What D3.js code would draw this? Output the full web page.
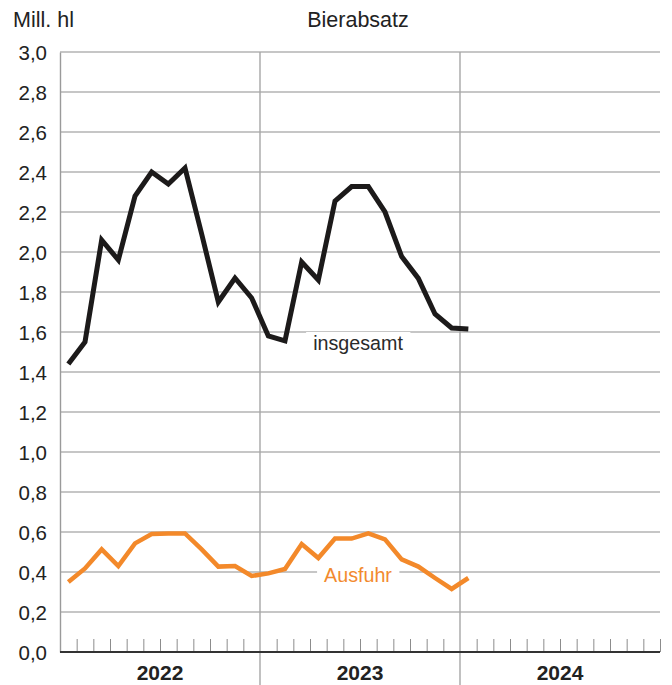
<!DOCTYPE html>
<html>
<head>
<meta charset="utf-8">
<script src="https://cdn.jsdelivr.net/npm/d3@7/dist/d3.min.js"></script>
<style>
  html, body { margin: 0; padding: 0; background: #fff; }
  svg { display: block; font-family: "Liberation Sans", Arial, sans-serif; }
</style>
</head>
<body>
<svg id="chart" width="672" height="685"></svg>
<script>
// Monthly beer sales, million hectolitres
const months = [
  "2022-01","2022-02","2022-03","2022-04","2022-05","2022-06",
  "2022-07","2022-08","2022-09","2022-10","2022-11","2022-12",
  "2023-01","2023-02","2023-03","2023-04","2023-05","2023-06",
  "2023-07","2023-08","2023-09","2023-10","2023-11","2023-12",
  "2024-01"
];
const insgesamt = [
  1.44, 1.55, 2.06, 1.96, 2.28, 2.40, 2.34, 2.42, 2.09, 1.75, 1.87, 1.77,
  1.58, 1.556, 1.95, 1.86, 2.255, 2.327, 2.327, 2.20, 1.977, 1.868, 1.69, 1.62,
  1.615
];
const ausfuhr = [
  0.35, 0.418, 0.513, 0.43, 0.543, 0.59, 0.592, 0.593, 0.513, 0.427, 0.43, 0.38,
  0.393, 0.415, 0.54, 0.47, 0.567, 0.567, 0.593, 0.563, 0.463, 0.427, 0.37, 0.315,
  0.37
];
const years = ["2022", "2023", "2024"];
const yTicks = [0, 0.2, 0.4, 0.6, 0.8, 1.0, 1.2, 1.4, 1.6, 1.8, 2.0, 2.2, 2.4, 2.6, 2.8, 3.0];

const svg = d3.select("#chart");
const plotLeft = 60, plotRight = 660, plotTop = 52, plotBottom = 652;

// month index from the first January shown
const startYear = +years[0];
const monthIndex = m => (+m.slice(0, 4) - startYear) * 12 + (+m.slice(5, 7) - 1);

const x = d3.scaleLinear().domain([0, years.length * 12]).range([plotLeft, plotRight]);
const y = d3.scaleLinear().domain([0, 3]).range([plotBottom, plotTop]);

const fmt = v => d3.format(".1f")(v).replace(".", ",");

// horizontal grid
svg.append("g")
  .selectAll("line")
  .data(yTicks.filter(t => t > 0))
  .join("line")
  .attr("x1", plotLeft).attr("x2", plotRight)
  .attr("y1", d => y(d)).attr("y2", d => y(d))
  .attr("stroke", "#b3b3b3").attr("stroke-width", 1.4);

// y axis
const yAxis = d3.axisLeft(y).tickValues(yTicks).tickFormat(fmt).tickSize(0).tickPadding(13);
const gy = svg.append("g").attr("transform", `translate(${plotLeft},0)`).call(yAxis);
gy.select(".domain").attr("stroke", "#9a9a9a").attr("stroke-width", 1.4);
gy.selectAll("text").attr("font-size", 20.5).attr("fill", "#222").attr("dy", "0.36em");

// year dividers
svg.append("g")
  .selectAll("line")
  .data(d3.range(1, years.length))
  .join("line")
  .attr("x1", d => x(d * 12)).attr("x2", d => x(d * 12))
  .attr("y1", plotTop).attr("y2", 685)
  .attr("stroke", "#a6a6a6").attr("stroke-width", 1.4);

// month ticks
const monthTicks = d3.range(1, years.length * 12 + 1).filter(i => i % 12 !== 0 || i === years.length * 12);
const xAxis = d3.axisTop(x).tickValues(monthTicks).tickSize(13).tickFormat("");
const gx = svg.append("g").attr("transform", `translate(0,${plotBottom})`).call(xAxis);
gx.select(".domain").remove();
gx.selectAll(".tick line").attr("stroke", "#8c8c8c").attr("stroke-width", 1);

// baseline
svg.append("line")
  .attr("x1", plotLeft).attr("x2", plotRight)
  .attr("y1", plotBottom).attr("y2", plotBottom)
  .attr("stroke", "#333").attr("stroke-width", 2);

// year labels
svg.append("g")
  .selectAll("text")
  .data(years)
  .join("text")
  .attr("x", (d, i) => x(i * 12 + 6))
  .attr("y", 680)
  .attr("text-anchor", "middle")
  .attr("font-size", 21).attr("font-weight", "bold").attr("fill", "#222")
  .text(d => d);

// series labels with a white gap in the grid behind them
function seriesLabel(text, cx, baseline, color) {
  const g = svg.append("g");
  const t = g.append("text")
    .attr("x", cx).attr("y", baseline)
    .attr("text-anchor", "middle")
    .attr("font-size", 19.7).attr("fill", color)
    .text(text);
  const b = t.node().getBBox();
  g.insert("rect", "text")
    .attr("x", b.x - 7).attr("y", b.y)
    .attr("width", b.width + 14).attr("height", b.height)
    .attr("fill", "#fff");
}
seriesLabel("insgesamt", 358, 350, "#2a2a2a");
seriesLabel("Ausfuhr", 358, 582, "#f28a2e");

const line = d3.line()
  .x((d, i) => x(monthIndex(months[i]) + 0.5))
  .y(d => y(d));

svg.append("path")
  .datum(ausfuhr)
  .attr("d", line)
  .attr("fill", "none")
  .attr("stroke", "#f3892a")
  .attr("stroke-width", 4.5)
  .attr("stroke-linejoin", "miter");

svg.append("path")
  .datum(insgesamt)
  .attr("d", line)
  .attr("fill", "none")
  .attr("stroke", "#1c1a1a")
  .attr("stroke-width", 5)
  .attr("stroke-linejoin", "miter");

// titles
svg.append("text")
  .attr("x", 13).attr("y", 27)
  .attr("font-size", 21.5).attr("fill", "#222")
  .text("Mill. hl");
svg.append("text")
  .attr("x", 358).attr("y", 27)
  .attr("text-anchor", "middle")
  .attr("font-size", 21.5).attr("fill", "#222")
  .text("Bierabsatz");
</script>
</body>
</html>
